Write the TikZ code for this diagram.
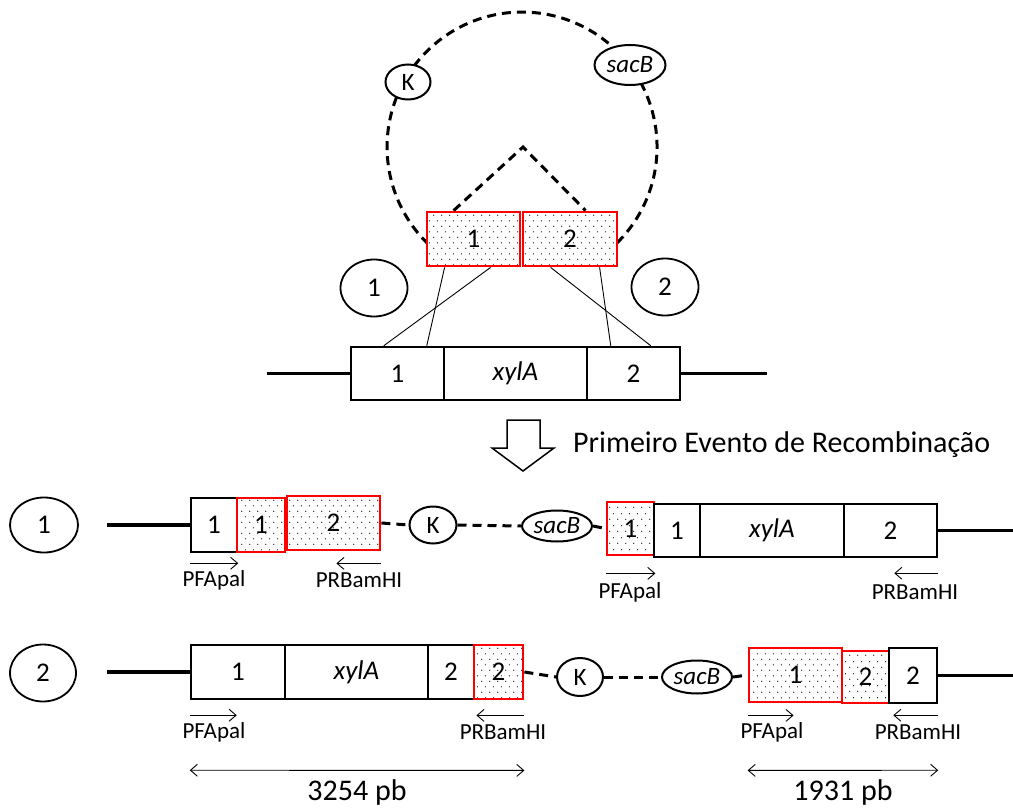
\documentclass[tikz,border=0pt]{standalone}
\usepackage{fontspec}
\setmainfont{Carlito}
\usetikzlibrary{shapes.geometric,patterns,arrows.meta,calc}
\pgfdeclarepatternformonly{sdots}{\pgfpointorigin}{\pgfpoint{8pt}{11.4pt}}{\pgfpoint{8pt}{11.4pt}}{%
  \pgfpathcircle{\pgfpoint{2pt}{2.85pt}}{0.65pt}%
  \pgfpathcircle{\pgfpoint{6pt}{8.55pt}}{0.65pt}%
  \pgfusepath{fill}}
\begin{document}
\begin{tikzpicture}[x=1pt,y=-1pt,
 blk/.style={draw=black,line width=2.5pt,inner sep=0pt,fill=white,font=\fontsize{27}{30}\selectfont},
 rbox/.style={draw=red,line width=2.8pt,inner sep=0pt,preaction={fill=white},pattern=sdots,pattern color=black,font=\fontsize{27}{30}\selectfont},
 ell/.style={ellipse,draw,line width=2pt,fill=white,inner sep=0pt,font=\fontsize{25}{28}\selectfont},
 circ/.style={ellipse,draw,line width=1.8pt,inner sep=0pt,font=\fontsize{27}{30}\selectfont},
 dna/.style={line width=3.5pt},
 dsh/.style={line width=3pt,dash pattern=on 9pt off 6pt},
 thinl/.style={line width=0.9pt},
 primer/.style={line width=0.9pt,-{Straight Barb[length=7pt,width=12pt]}},
 dimarr/.style={line width=0.9pt,{Straight Barb[length=7pt,width=12pt]}-{Straight Barb[length=7pt,width=12pt]}},
 lab/.style={font=\fontsize{23}{26}\selectfont,inner sep=0pt},
 big/.style={font=\fontsize{30}{34}\selectfont,inner sep=0pt},
]
\useasboundingbox (0,0) rectangle (1013,808);

% ---------- plasmid ----------
\draw[dsh] (617,243) arc[start angle=45.3,end angle=-225.3,radius=135];
\node[rbox,minimum width=93pt,minimum height=54pt] (p1) at (473.5,239) {1};
\node[rbox,minimum width=94pt,minimum height=54pt] (p2) at (570,239) {2};
\coordinate (apex) at (523,147);
\draw[dsh] ($(p1.north west)+(28,0)$) -- (apex) -- ($(p2.north west)+(64,0)$);
\node[ell,minimum width=45pt,minimum height=35pt] (Kt) at (408,82) {K};
\node[ell,minimum width=71pt,minimum height=40pt] (St) at (630,65) {\itshape sacB};

\node[circ,minimum width=67pt,minimum height=57pt] (c1) at (374,288) {1};
\node[circ,minimum width=67pt,minimum height=57pt] (c2) at (665,287) {2};

% ---------- genome ----------
\node[blk,minimum width=93pt,minimum height=53pt] (g1) at (397.5,373.5) {1};
\node[blk,minimum width=143pt,minimum height=53pt] (gx) at (515.5,373.5) {\itshape xylA};
\node[blk,minimum width=93pt,minimum height=53pt] (g2) at (633.5,373.5) {2};
\coordinate (gl) at (267,373.5);
\coordinate (gr) at (767,373.5);
\draw[dna] (gl) -- (g1.west);
\draw[dna] (g2.east) -- (gr);

\draw[thinl] ($(p1.south west)+(19,0)$) -- ($(g1.north west)+(77,0)$);
\draw[thinl] ($(p1.south west)+(65,0)$) -- ($(g1.north west)+(34,0)$);
\draw[thinl] ($(p2.south west)+(29,0)$) -- ($(g2.north west)+(65,0)$);
\draw[thinl] ($(p2.south west)+(78,0)$) -- ($(g2.north west)+(25,0)$);

% ---------- arrow and title ----------
\draw[line width=1.5pt,line join=miter] (507,420) -- (540,420) -- (540,448) -- (554,448) -- (523,471) -- (492,448) -- (507,448) -- cycle;
\node[big,anchor=west] (title) at (573,445) {Primeiro Evento de Recombinação};

% ---------- row 1 ----------
\node[circ,minimum width=68pt,minimum height=55pt] (r1) at (44,525) {1};
\node[blk,minimum width=46pt,minimum height=54pt] (a1) at (214,525) {1};
\node[rbox,minimum width=48pt,minimum height=54pt] (a2) at (261,525) {1};
\node[rbox,minimum width=93pt,minimum height=54pt] (a3) at (333.5,523) {2};
\node[ell,minimum width=47pt,minimum height=37pt] (K1) at (433,525) {K};
\node[ell,minimum width=70pt,minimum height=31pt] (S1) at (557,526) {\itshape sacB};
\node[rbox,minimum width=47pt,minimum height=53pt] (a4) at (630.5,528.5) {1};
\node[blk,minimum width=46pt,minimum height=53pt] (a5) at (677,530.5) {1};
\node[blk,minimum width=144pt,minimum height=53pt] (a6) at (772,530.5) {\itshape xylA};
\node[blk,minimum width=93pt,minimum height=53pt] (a7) at (890.5,530.5) {2};
\coordinate (l1) at (107,525);
\coordinate (e1) at (1013,530.5);
\draw[dna] (l1) -- (a1.west);
\draw[dsh] (a3.east) -- (K1.west);
\draw[dsh] (K1.east) -- (S1.west);
\draw[dsh] (S1.east) -- (a4.west);
\draw[dna] (a7.east) -- (e1);

\draw[primer] ($(a1.south west)+(0,10)$) -- ($(a1.south east)+(0,10)$);
\node[lab] (pf1) at (214,580) {PFApal};
\draw[primer] ($(a3.south east)+(0,12)$) -- ($(a3.south east)+(-45,12)$);
\node[lab] (pr1) at (359,580) {PRBamHI};
\draw[primer] ($(a4.south west)+(0,17)$) -- ($(a4.south east)+(0,17)$);
\node[lab] (pf2) at (630,592) {PFApal};
\draw[primer] ($(a7.south east)+(0,15)$) -- ($(a7.south east)+(-44,15)$);
\node[lab] (pr2) at (915,592) {PRBamHI};

% ---------- row 2 ----------
\node[circ,minimum width=66pt,minimum height=57pt] (r2) at (43,673) {2};
\node[blk,minimum width=94pt,minimum height=54pt] (b1) at (238,672) {1};
\node[blk,minimum width=143pt,minimum height=54pt] (b2) at (356.5,672) {\itshape xylA};
\node[blk,minimum width=46pt,minimum height=54pt] (b3) at (451,672) {2};
\node[rbox,minimum width=49pt,minimum height=54pt] (b4) at (498.5,672) {2};
\node[ell,minimum width=46pt,minimum height=38pt] (K2) at (580,677) {K};
\node[ell,minimum width=70pt,minimum height=33pt] (S2) at (697,677) {\itshape sacB};
\node[rbox,minimum width=93pt,minimum height=54pt] (b5) at (795.5,675) {1};
\node[rbox,minimum width=47pt,minimum height=52pt] (b6) at (865.5,677) {2};
\node[blk,minimum width=48pt,minimum height=55pt] (b7) at (913,675.5) {2};
\coordinate (l2) at (107,672);
\coordinate (e2) at (1013,675.5);
\draw[dna] (l2) -- (b1.west);
\draw[dsh] (b4.east) -- (K2.west);
\draw[dsh] (K2.east) -- (S2.west);
\draw[dsh] (S2.east) -- (b5.west);
\draw[dna] (b7.east) -- (e2);

\draw[primer] ($(b1.south west)+(0,15)$) -- ($(b1.south west)+(47,15)$);
\node[lab] (pf3) at (214,732) {PFApal};
\draw[primer] ($(b4.south east)+(0,15)$) -- ($(b4.south east)+(-48,15)$);
\node[lab] (pr3) at (503,732) {PRBamHI};
\draw[primer] ($(b5.south west)+(0,12)$) -- ($(b5.south west)+(46,12)$);
\node[lab] (pf4) at (772,732) {PFApal};
\draw[primer] ($(b7.south east)+(0,11)$) -- ($(b7.south east)+(-45,11)$);
\node[lab] (pr4) at (918,732) {PRBamHI};

\draw[dimarr] ($(b1.south west)+(0,70)$) -- ($(b4.south east)+(0,70)$);
\node[big] (d1) at (357,792) {3254 pb};
\draw[dimarr] ($(b5.south west)+(0,67)$) -- ($(b7.south east)+(0,66)$);
\node[big] (d2) at (843,792) {1931 pb};
\end{tikzpicture}
\end{document}
